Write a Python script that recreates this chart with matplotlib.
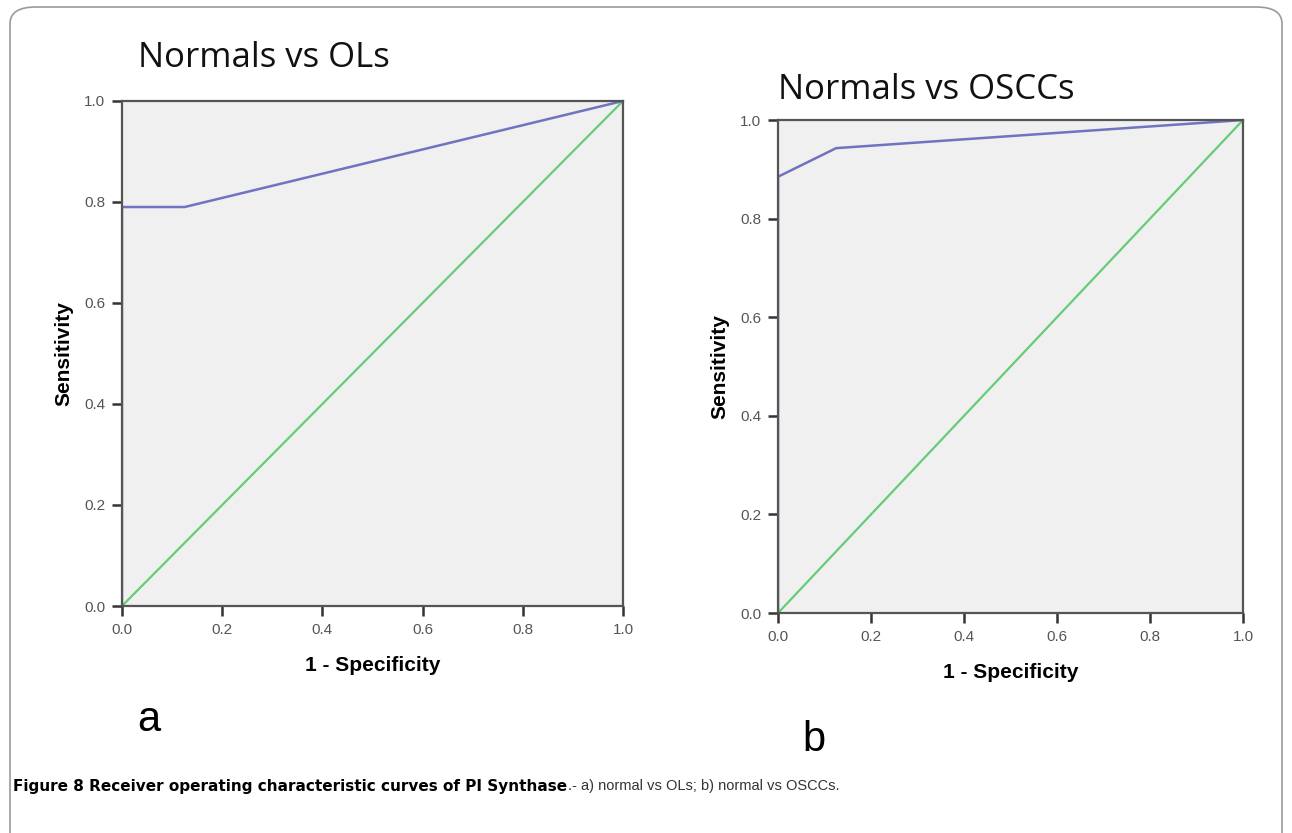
import matplotlib
matplotlib.use("Agg")
import matplotlib.pyplot as plt
from matplotlib.patches import FancyBboxPatch

# ROC data
ols_fpr = [0.0, 0.0, 0.125, 1.0]
ols_tpr = [0.0, 0.79, 0.79, 1.0]
osccs_fpr = [0.0, 0.0, 0.125, 1.0]
osccs_tpr = [0.0, 0.885, 0.943, 1.0]
ref_line = [0.0, 1.0]
ticks = [0.0, 0.2, 0.4, 0.6, 0.8, 1.0]
tick_labels = ["0.0", "0.2", "0.4", "0.6", "0.8", "1.0"]

fig = plt.figure(figsize=(12.92, 8.33), dpi=100)

# outer rounded frame (open at the bottom, runs off the page)
top = 1 - 7 / 833
frame = FancyBboxPatch((10 / 1292, -0.05), 1272 / 1292, top + 0.05,
                       boxstyle="round,pad=0,rounding_size=0.02",
                       transform=fig.transFigure, fill=False, ec="#9a9a9a", lw=1.2)
fig.patches.append(frame)


def roc_panel(rect, fpr, tpr, title, title_pos, letter, letter_pos):
    ax = fig.add_axes(rect)
    ax.set_facecolor("#f0f0f0")
    ax.plot(ref_line, ref_line, color="#66cc77", lw=1.6)
    ax.plot(fpr, tpr, color="#6f73c0", lw=1.8)
    ax.set_xlim(0, 1)
    ax.set_ylim(0, 1)
    ax.set_xticks(ticks)
    ax.set_yticks(ticks)
    ax.set_xticklabels(tick_labels, fontsize=11, color="#555555", family="Liberation Sans")
    ax.set_yticklabels(tick_labels, fontsize=11, color="#555555", family="Liberation Sans")
    ax.tick_params(direction="out", length=7, width=1.8, color="#333333", pad=5)
    for s in ax.spines.values():
        s.set_color("#555555")
        s.set_linewidth(1.6)
    ax.set_xlabel("1 - Specificity", fontsize=15, fontweight="bold",
                  family="Liberation Sans", labelpad=14)
    ax.set_ylabel("Sensitivity", fontsize=15, fontweight="bold",
                  family="Liberation Sans", labelpad=8)
    fig.text(title_pos[0], title_pos[1], title, fontsize=25, family="Open Sans",
             ha="left", va="center", color="#111111")
    fig.text(letter_pos[0], letter_pos[1], letter, fontsize=30,
             family="Liberation Sans", ha="left", va="center")
    return ax


roc_panel([0.0944, 0.2725, 0.3878, 0.6063], ols_fpr, ols_tpr,
          "Normals vs OLs", (138 / 1292, 1 - 58 / 833), "a", (137 / 1292, 1 - 720 / 833))
roc_panel([0.6022, 0.2641, 0.3599, 0.5918], osccs_fpr, osccs_tpr,
          "Normals vs OSCCs", (778 / 1292, 1 - 90 / 833), "b", (802 / 1292, 1 - 740 / 833))

# caption: bold part then regular part right after it
cap_y = 1 - 786 / 833
bold = fig.text(13 / 1292, cap_y, "Figure 8 Receiver operating characteristic curves of PI Synthase",
                fontsize=11, fontweight="bold", family="DejaVu Sans",
                ha="left", va="center")
fig.canvas.draw()
bb = bold.get_window_extent()
fig.text(bb.x1 / fig.bbox.width + 0.001, cap_y, ".- a) normal vs OLs; b) normal vs OSCCs.",
         fontsize=10.5, family="Liberation Sans",
         ha="left", va="center", color="#333333")

fig.savefig("out.png", dpi=100)
